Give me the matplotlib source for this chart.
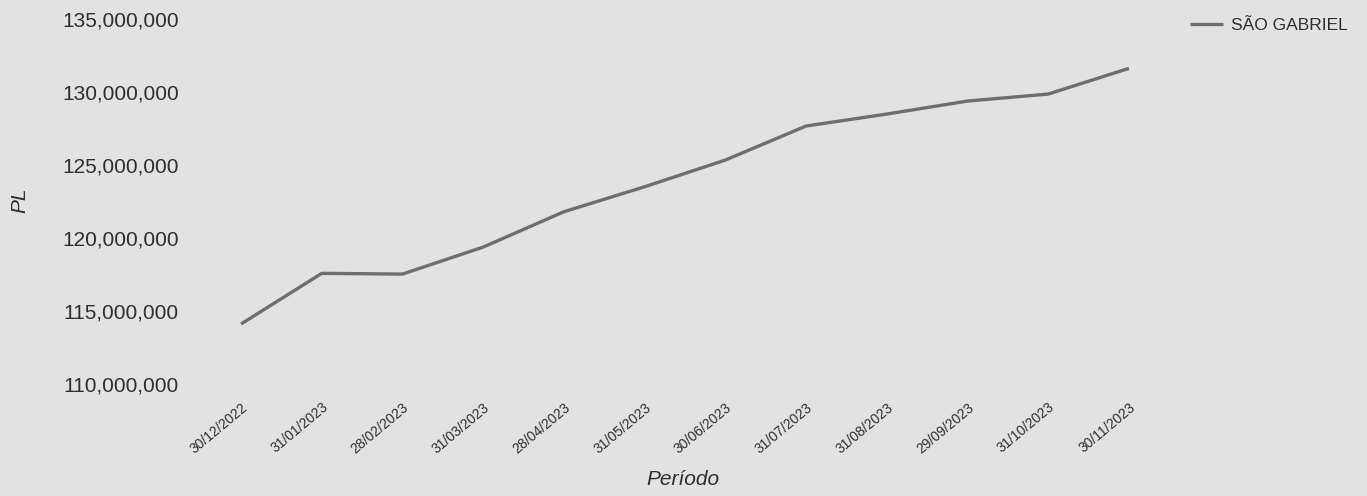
import matplotlib
matplotlib.use("Agg")
import matplotlib.pyplot as plt
from matplotlib.ticker import FuncFormatter

# data
periodos = ["30/12/2022", "31/01/2023", "28/02/2023", "31/03/2023", "28/04/2023",
            "31/05/2023", "30/06/2023", "31/07/2023", "31/08/2023", "29/09/2023",
            "31/10/2023", "30/11/2023"]
pl_sao_gabriel = [114.11e6, 117.58e6, 117.53e6, 119.38e6, 121.80e6, 123.51e6,
                  125.34e6, 127.67e6, 128.49e6, 129.38e6, 129.86e6, 131.62e6]
serie = "SÃO GABRIEL"
yticks = [110e6, 115e6, 120e6, 125e6, 130e6, 135e6]

plt.rcParams["font.family"] = ["Liberation Sans", "DejaVu Sans"]
bg = "#e2e2e2"
txt = "#2e2e2e"

W, H = 1367, 496
fig = plt.figure(figsize=(W / 100, H / 100), dpi=100, facecolor=bg)

# axes placed in pixel terms
left, right, top, bottom = 192.6, 1177.4, 4.4, 396.0
ax = fig.add_axes([left / W, 1 - bottom / H, (right - left) / W, (bottom - top) / H])
ax.set_facecolor(bg)

x = list(range(len(periodos)))
ax.plot(x, pl_sao_gabriel, color="#6e6e6e", lw=2.4, label=serie, solid_capstyle="butt")

ax.set_xlim(-0.6, len(periodos) - 1 + 0.6)
ax.set_ylim(109.18e6, 136.0e6)

ax.set_yticks(yticks)
ax.yaxis.set_major_formatter(FuncFormatter(lambda v, p: f"{v:,.0f}"))
ax.set_xticks(x)
ax.set_xticklabels(periodos, rotation=40, ha="right", rotation_mode="anchor",
                   fontsize=10, color=txt)

ax.tick_params(axis="y", length=0, pad=10, labelsize=15, labelcolor=txt)
ax.tick_params(axis="x", length=0, pad=3)

for s in ax.spines.values():
    s.set_visible(False)

ax.set_xlabel("Período", fontsize=15, style="italic", color=txt)
ax.set_ylabel("PL", fontsize=15, style="italic", color=txt)
ax.xaxis.set_label_coords(0.498, -(470 - bottom) / (bottom - top))
ax.yaxis.set_label_coords(-(left - 29) / (right - left), 0.5)

fig.legend(loc="center right", bbox_to_anchor=(1348 / W, 1 - 25 / H), frameon=False,
           fontsize=12.5, handlelength=1.9, handletextpad=0.5, labelcolor=txt,
           borderaxespad=0, borderpad=0)

fig.savefig("out.png", dpi=100, facecolor=bg)
